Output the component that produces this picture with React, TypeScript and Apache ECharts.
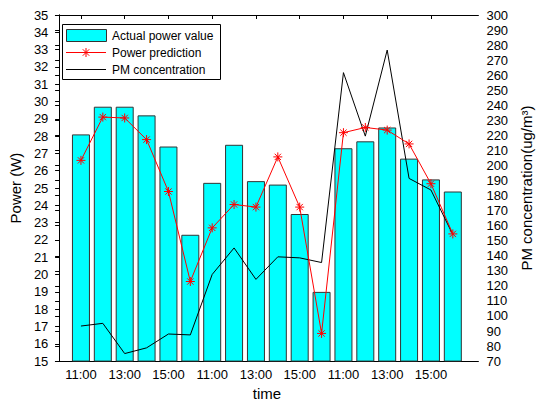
import React, { useEffect, useRef } from "react";
import * as echarts from "echarts";

const categories = [
  "11:00", "12:00", "13:00", "14:00", "15:00", "16:00",
  "11:00", "12:00", "13:00", "14:00", "15:00", "16:00",
  "11:00", "12:00", "13:00", "14:00", "15:00", "16:00",
];
const actualPower = [28.1, 29.7, 29.7, 29.2, 27.4, 22.3, 25.3, 27.5, 25.4, 25.2, 23.5, 19.0, 27.3, 27.7, 28.5, 26.7, 25.5, 24.8];
const predictedPower = [26.6, 29.1, 29.05, 27.8, 24.8, 19.6, 22.7, 24.05, 23.9, 26.8, 23.9, 16.6, 28.2, 28.5, 28.35, 27.55, 25.25, 22.35];
const pmConcentration = [93.3, 95.1, 75, 78.8, 88, 87.4, 127.6, 145.2, 124.3, 139.3, 138.6, 135.5, 261.7, 219.5, 276.7, 191.4, 183.7, 154];
const labelledPositions = [1, 3, 5, 7, 9, 11, 13, 15, 17];
const seriesNames = ["Actual power value", "Power prediction", "PM concentration"];

const FONT = "Liberation Sans, Arial, sans-serif";
const STAR = "path://M5 0L5 10M0 5L10 5M1.5 1.5L8.5 8.5M1.5 8.5L8.5 1.5";

function starLines(cx: number, cy: number, r: number) {
  const d = r * 0.72;
  const segs = [
    [cx, cy - r, cx, cy + r],
    [cx - r, cy, cx + r, cy],
    [cx - d, cy - d, cx + d, cy + d],
    [cx - d, cy + d, cx + d, cy - d],
  ];
  return segs.map(([x1, y1, x2, y2]) => ({
    type: "line",
    shape: { x1, y1, x2, y2 },
    style: { stroke: "#ff0000", lineWidth: 1 },
  }));
}

export default function App() {
  const ref = useRef<HTMLDivElement>(null);
  useEffect(() => {
    if (!ref.current) return;
    const chart = echarts.init(ref.current, null, { renderer: "svg" });
    const xs = categories.map((_, i) => i + 1);
    const lx = 62, ly = 24, lw = 158, lh = 55;
    const rowY = [35, 52, 69];
    chart.setOption({
      animation: false,
      backgroundColor: "#fff",
      textStyle: { fontFamily: FONT },
      grid: { left: 51, right: 49, top: 15, bottom: 43 },
      graphic: [
        {
          type: "group",
          z: 100,
          children: [
            {
              type: "rect",
              shape: { x: lx + 0.5, y: ly + 0.5, width: lw, height: lh },
              style: { fill: "#fff", stroke: "#000", lineWidth: 1 },
            },
            {
              type: "rect",
              shape: { x: 66.5, y: 29.5, width: 40, height: 12 },
              style: { fill: "#00FFFF", stroke: "#333", lineWidth: 1 },
            },
            {
              type: "line",
              shape: { x1: 66, y1: rowY[1] + 0.5, x2: 106, y2: rowY[1] + 0.5 },
              style: { stroke: "#ff0000", lineWidth: 1 },
            },
            ...starLines(86, rowY[1] + 0.5, 4.5),
            {
              type: "line",
              shape: { x1: 66, y1: rowY[2] + 0.5, x2: 106, y2: rowY[2] + 0.5 },
              style: { stroke: "#000", lineWidth: 1 },
            },
            ...seriesNames.map((name, i) => ({
              type: "text",
              x: 112,
              y: rowY[i] + 0.5,
              style: {
                text: name,
                fill: "#000",
                font: `12px ${FONT}`,
                textVerticalAlign: "middle",
                verticalAlign: "middle",
              },
            })),
          ],
        },
      ],
      xAxis: [
        {
          type: "value",
          min: -0.17,
          max: 19.17,
          position: "bottom",
          name: "time",
          nameLocation: "middle",
          nameGap: 24,
          nameTextStyle: { fontFamily: FONT, fontSize: 15, color: "#000" },
          axisLine: { show: true, lineStyle: { color: "#000", width: 1 } },
          axisTick: { show: true, inside: true, length: 4, customValues: labelledPositions, lineStyle: { color: "#000" } },
          axisLabel: {
            customValues: labelledPositions,
            formatter: (v: number) => categories[Math.round(v) - 1] ?? "",
            fontFamily: FONT,
            fontSize: 13,
            color: "#000",
            margin: 7,
          },
          splitLine: { show: false },
        },
        {
          type: "value",
          min: -0.17,
          max: 19.17,
          position: "top",
          axisLine: { show: true, lineStyle: { color: "#000", width: 1 } },
          axisTick: { show: true, inside: true, length: 4, customValues: labelledPositions, lineStyle: { color: "#000" } },
          axisLabel: { show: false },
          splitLine: { show: false },
        },
      ],
      yAxis: [
        {
          type: "value",
          min: 15,
          max: 35,
          interval: 1,
          position: "left",
          name: "Power (W)",
          nameLocation: "middle",
          nameRotate: 90,
          nameGap: 27,
          nameTextStyle: { fontFamily: FONT, fontSize: 15, color: "#000" },
          axisLine: { show: true, lineStyle: { color: "#000", width: 1 } },
          axisTick: { show: true, inside: false, length: 4, lineStyle: { color: "#000" } },
          axisLabel: { fontFamily: FONT, fontSize: 13, color: "#000", margin: 7 },
          splitLine: { show: false },
        },
        {
          type: "value",
          min: 70,
          max: 300,
          interval: 10,
          position: "right",
          name: "PM concentration(ug/m³)",
          nameLocation: "middle",
          nameRotate: 90,
          nameGap: 34,
          nameTextStyle: { fontFamily: FONT, fontSize: 15, color: "#000" },
          axisLine: { show: true, lineStyle: { color: "#000", width: 1 } },
          axisTick: { show: true, inside: true, length: 4, lineStyle: { color: "#000" } },
          axisLabel: { fontFamily: FONT, fontSize: 13, color: "#000", margin: 8 },
          splitLine: { show: false },
        },
      ],
      series: [
        {
          name: seriesNames[0],
          type: "bar",
          xAxisIndex: 0,
          yAxisIndex: 0,
          barWidth: 18,
          clip: true,
          itemStyle: { color: "#00FFFF", borderColor: "#333", borderWidth: 1 },
          data: xs.map((x, i) => [x, actualPower[i]]),
          z: 1,
        },
        {
          name: seriesNames[1],
          type: "line",
          xAxisIndex: 0,
          yAxisIndex: 0,
          symbol: STAR,
          symbolSize: 9,
          color: "#ff0000",
          itemStyle: { color: "#ff0000", borderColor: "#ff0000", borderWidth: 1 },
          lineStyle: { color: "#ff0000", width: 1 },
          data: xs.map((x, i) => [x, predictedPower[i]]),
          z: 3,
        },
        {
          name: seriesNames[2],
          type: "line",
          xAxisIndex: 0,
          yAxisIndex: 1,
          symbol: "none",
          color: "#000",
          lineStyle: { color: "#000", width: 1 },
          data: xs.map((x, i) => [x, pmConcentration[i]]),
          z: 2,
        },
      ],
    });
    return () => chart.dispose();
  }, []);
  return (
    <div
      ref={ref}
      style={{ position: "fixed", left: 0, top: 0, width: 542, height: 406, background: "#fff" }}
    />
  );
}
